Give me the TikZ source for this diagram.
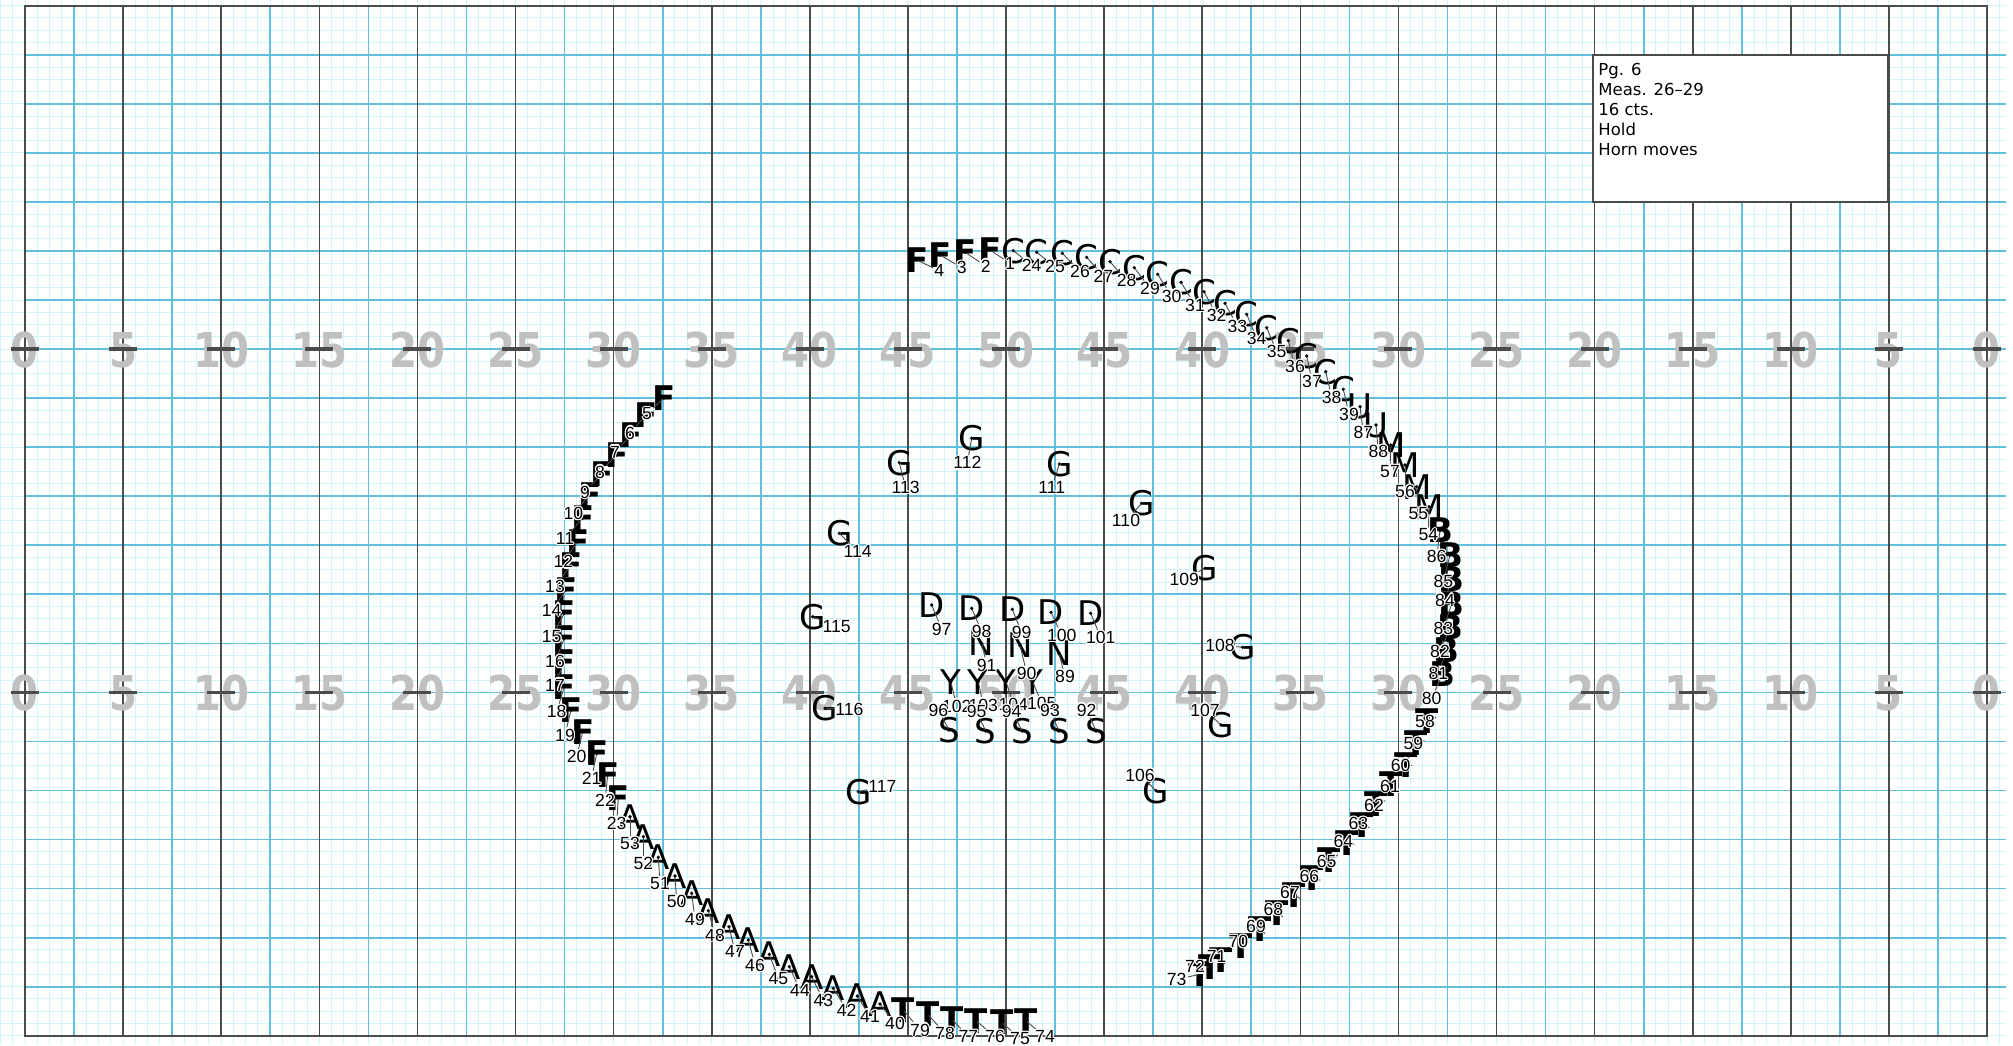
\documentclass[tikz,border=0pt]{standalone}
\usepackage{fontspec}
\setmainfont{DejaVu Sans}
\newfontfamily\letfont{DejaVu Sans}
\newfontfamily\labfont{Liberation Sans}
\newfontfamily\yardfont{DejaVu Sans}
\definecolor{finec}{RGB}{205,247,250}
\definecolor{bluec}{RGB}{98,192,220}
\definecolor{darkc}{RGB}{75,75,75}
\definecolor{yardc}{RGB}{192,192,192}
\pgfdeclarelayer{gridlayer}
\pgfdeclarelayer{letterlayer}
\pgfdeclarelayer{linelayer}
\pgfsetlayers{gridlayer,letterlayer,linelayer,main}
\def\members{F/916.7/260/939.3/270.7/4,
F/940/255/961.7/267.7/3,
F/965/252.3/985.7/266/2,
F/990/250/1010/263.3/1,
F/664/398/647/414/5,
F/646/415/630/433/6,
F/631/435/615/452/7,
F/616.7/455/600/472/8,
F/601.7/474/585/492/9,
F/590/495/573.3/513.3/10,
F/582.7/518/565/538.3/11,
F/577.7/541.7/563.3/561.7/12,
F/571/565/555/586.7/13,
F/566/590/551.7/610/14,
F/564.3/613.3/551.7/636.7/15,
F/564.3/638.3/555/661.7/16,
F/564.3/661.7/555/685/17,
F/564.3/686.7/556.7/711.7/18,
F/571/710/565/735/19,
F/582.7/731.7/576.7/756.7/20,
F/596.7/753.3/591.7/778.3/21,
F/607.7/775/605/800/22,
F/618.3/797.7/616.7/823.3/23,
C/1013.3/250.7/1031.7/265/24,
C/1036.7/252.3/1055/266.7/25,
C/1062.3/253.3/1080/271.7/26,
C/1086.7/257.3/1103.3/276/27,
C/1110/261.7/1126.7/280.7/28,
C/1134.3/267.7/1150/288.3/29,
C/1157.7/274.3/1171.7/296/30,
C/1181/282.3/1195/305/31,
C/1204/291.7/1216.7/315/32,
C/1225/303.3/1237.3/326/33,
C/1246.7/314.3/1256.7/338.3/34,
C/1266.7/327.7/1276.7/351.7/35,
C/1288.3/340.7/1295/366.7/36,
C/1306.7/356/1312/381/37,
C/1325.7/371.7/1331.7/397/38,
C/1343.3/389.3/1349/414/39,
U/1360/406.7/1363.3/432.7/87,
U/1376/425/1378.3/451.7/88,
M/1390.7/445/1390/471.7/57,
M/1405/465/1405/491.7/56,
M/1416.7/486.7/1418.3/513.3/55,
M/1429/506.7/1428.3/535/54,
B/1440/530.5/1436.7/556.7/86,
B/1450/555/1443.3/581.7/85,
B/1451.5/579.5/1445/600/84,
B/1451.7/604/1443.3/628.3/83,
B/1450/627.5/1440/651.7/82,
B/1446.7/650/1438.3/673.3/81,
B/1442.5/674/1431.7/698.3/80,
T/1426.7/721/1425/721.7/58,
T/1415.8/742.7/1413.3/743.3/59,
T/1405.8/765/1400.7/765/60,
T/1390.8/783.7/1390/786/61,
T/1375.8/804.3/1374/805/62,
T/1362.5/825/1358.3/823.3/63,
T/1347.5/842.7/1343.3/841.7/64,
T/1329/860.3/1326.7/861.7/65,
T/1312.5/877.7/1309.3/876.7/66,
T/1294/895/1290/892.7/67,
T/1277.5/912.7/1273.3/909.3/68,
T/1260/929.3/1256/926/69,
T/1240.8/946/1238.3/941.7/70,
T/1220.8/960.3/1216.7/956.7/71,
T/1210.4/967.3/1195/966.7/72,
T/1200/974.3/1176.7/979.3/73,
T/1025.7/1020.7/1045/1036.7/74,
T/1001.7/1022.3/1020/1038.3/75,
T/976/1020.7/995/1036.7/76,
T/951.7/1019/968.3/1036.7/77,
T/927.7/1014.3/945/1033.3/78,
T/903.3/1010/920/1030/79,
A/880/1004/895/1023.3/40,
A/857.3/996/870/1016.7/41,
A/833.3/988.3/846.7/1010/42,
A/811.7/976.7/823.3/1000/43,
A/789.3/966.7/800/990/44,
A/769.3/954.3/778.3/978.3/45,
A/748.3/940/755/965/46,
A/729/926.7/735/951.7/47,
A/708.3/910.7/715/935/48,
A/691.7/893.3/695/919.3/49,
A/675/876/676.7/901.7/50,
A/658.3/857.3/660/883.3/51,
A/643.3/836.7/643.3/863.3/52,
A/630/816.7/630/843.3/53,
D/931.7/605/941.7/629.3/97,
D/971.7/608.3/981.7/631.7/98,
D/1012.3/609.3/1021.7/632.7/99,
D/1051/612.3/1061.7/635/100,
D/1090.7/613.3/1100.7/637.3/101,
N/1059/653.3/1065/676.7/89,
N/1020/645/1026.7/673.3/90,
N/981.7/643.3/986.7/665/91,
Y/950.7/681.7/956.7/706/102,
Y/978.3/681.7/983.3/705/103,
Y/1006/681.7/1013.3/704.3/104,
Y/1032.7/681.7/1041.7/703.3/105,
S/1096/731/1086.7/710/92,
S/1059/731/1050/710.7/93,
S/1022.3/731/1011.7/711.7/94,
S/985.7/731/976.7/711.7/95,
S/949/730/938.3/710/96,
G/1156/790.7/1140/775/106,
G/1221/725/1205/710/107,
G/1242.7/647.3/1220/645/108,
G/1205/568.3/1184.3/579.3/109,
G/1141.7/503.3/1126/520.7/110,
G/1059.3/464/1051.7/487.7/111,
G/971.7/438.3/967.3/462.7/112,
G/899.3/462.7/905.7/487.7/113,
G/839.3/533.3/857.7/551.7/114,
G/812.7/616.7/836.7/626.7/115,
G/825/708.3/849.3/709.3/116,
G/858.3/791.7/882.3/786/117}
\begin{document}
\begin{tikzpicture}[x=0.5pt,y=-0.5pt,
  fineln/.style={draw=finec,line width=0.5pt},
  blueln/.style={draw=bluec,line width=0.85pt},
  darkln/.style={draw=darkc,line width=0.8pt},
  letter/.style={font=\letfont\fontsize{17}{17}\selectfont,inner sep=0pt},
  heavy/.style={font=\letfont\bfseries\fontsize{17}{17}\selectfont},
  letF/.style={heavy}, letT/.style={heavy}, letB/.style={heavy},
  lab/.style={font=\labfont\fontsize{8.8}{8.8}\selectfont,inner sep=0.5pt},
  conn/.style={draw=black!70,line width=0.45pt},
  yard/.style={font=\yardfont\bfseries\fontsize{24}{24}\selectfont,text=yardc,inner sep=0pt},
  info/.style={font=\fontsize{8.25}{10}\selectfont,inner sep=0pt,anchor=base west}]
\useasboundingbox (0,0) rectangle (2013,1045);
\begin{pgfonlayer}{gridlayer}
\fill[white] (0,0) rectangle (2013,1045);
\foreach \k in {-2,...,161} \draw[fineln] ({25+\k*12.2625},0) -- ({25+\k*12.2625},1045);
\foreach \k in {0,...,84} \draw[fineln] (1,{5.7+\k*12.2625}) -- (2006,{5.7+\k*12.2625});
\foreach \k in {1,...,20} \draw[blueln] (25,{5.7+4*\k*12.2625}) -- (2006,{5.7+4*\k*12.2625});
\foreach \m in {0,...,19} \draw[blueln] ({25+(8*\m+4)*12.2625},5.7) -- ({25+(8*\m+4)*12.2625},1035.75);
\foreach \m in {1,...,19} \draw[darkln] ({25+8*\m*12.2625},5.7) -- ({25+8*\m*12.2625},1035.75);
\draw[darkc,line width=1pt] (25,5.7) rectangle (1987,1035.75);
\foreach \m/\t in {0/0,1/5,2/10,3/15,4/20,5/25,6/30,7/35,8/40,9/45,10/50,11/45,12/40,13/35,14/30,15/25,16/20,17/15,18/10,19/5,20/0} {
  \node[yard] (ya\m) at ({25+\m*98.1},350.3) {\scalebox{0.84}[1]{\t}};
  \node[yard] (yb\m) at ({25+\m*98.1},693.5) {\scalebox{0.84}[1]{\t}};
  \fill[darkc] ({25+\m*98.1-14},347.3) rectangle ({25+\m*98.1+14},350.8);
  \fill[darkc] ({25+\m*98.1-14},690.6) rectangle ({25+\m*98.1+14},694.2);
}
\draw[darkc,line width=0.8pt,fill=white] (1593,55) rectangle (1888,202);
\node[info] (i1) at (1598,75) {Pg. 6};
\node[info] (i2) at (1598,95) {Meas. 26–29};
\node[info] (i3) at (1598,115) {16 cts.};
\node[info] (i4) at (1598,135) {Hold};
\node[info] (i5) at (1598,155) {Horn moves};
\end{pgfonlayer}
\foreach \L/\x/\y/\lx/\ly/\n in \members {
  \begin{pgfonlayer}{letterlayer}
    \node[letter,let\L/.try] (m\n) at (\x,\y) {\L};
  \end{pgfonlayer}
  \foreach \a in {0,45,...,315} \node[lab,text=white] (h\n-\a) at ([shift={(\a:0.6pt)}]\lx,\ly) {\n};
  \node[lab] (l\n) at (\lx,\ly) {\n};
  \begin{pgfonlayer}{linelayer}
    \coordinate (d\n) at (\x,\y);
    \draw[conn] (d\n) -- (l\n);
    \fill (d\n) circle (1.8);
  \end{pgfonlayer}
}
\end{tikzpicture}
\end{document}
